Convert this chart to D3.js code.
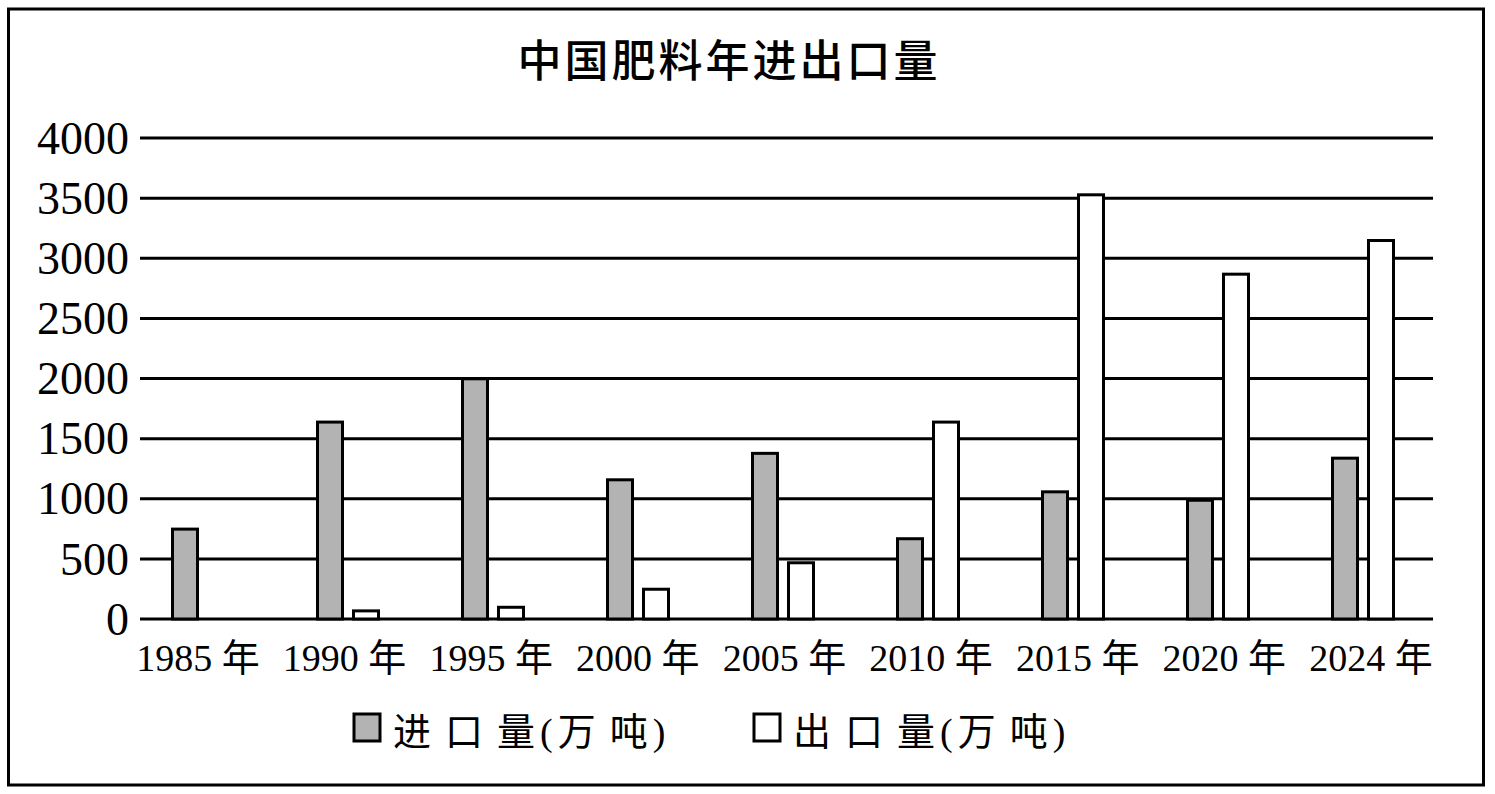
<!DOCTYPE html>
<html>
<head>
<meta charset="utf-8">
<script src="https://cdn.jsdelivr.net/npm/d3@7"></script>
<style>
  html, body { margin: 0; padding: 0; background: #fff; }
  svg { display: block; }
</style>
</head>
<body>
<svg id="chart" width="1495" height="794"></svg>
<script>
const title = "中国肥料年进出口量";
const categories = ["1985 年", "1990 年", "1995 年", "2000 年", "2005 年", "2010 年", "2015 年", "2020 年", "2024 年"];
const seriesNames = ["进口量(万吨)", "出口量(万吨)"];
const importValues = [760, 1650, 2010, 1170, 1390, 680, 1070, 1000, 1350];
const exportValues = [null, 80, 110, 260, 480, 1650, 3540, 2880, 3160];
const yTicks = [0, 500, 1000, 1500, 2000, 2500, 3000, 3500, 4000];
const seriesFills = ["#b3b3b3", "#ffffff"];

const serif = "'Liberation Serif', 'Times New Roman', 'Noto Sans CJK SC', serif";
const sansCJK = "'Noto Sans CJK SC', 'Noto Sans', sans-serif";

const svg = d3.select("#chart");

// outer frame
svg.append("rect")
  .attr("x", 8.5).attr("y", 9)
  .attr("width", 1475).attr("height", 776)
  .attr("fill", "#fff").attr("stroke", "#000").attr("stroke-width", 3);

// title
svg.append("text")
  .attr("x", 729).attr("y", 77)
  .attr("text-anchor", "middle")
  .style("font-family", sansCJK)
  .style("font-size", "44px")
  .style("font-weight", 500)
  .style("letter-spacing", "3px")
  .text(title);

const gridX0 = 140, gridX1 = 1433;
const y = d3.scaleLinear().domain([0, 4000]).range([619, 138]);
const x = d3.scaleBand().domain(categories).range([130.5, 1435.5]).padding(0);
const xSub = d3.scaleBand().domain(seriesNames).range([-32, 32]).paddingInner(0.222).paddingOuter(0);
const xLabel = d3.scalePoint().domain(categories).range([198, 1371]);

// gridlines
svg.append("g").selectAll("line")
  .data(yTicks).join("line")
  .attr("x1", gridX0).attr("x2", gridX1)
  .attr("y1", d => y(d)).attr("y2", d => y(d))
  .attr("stroke", "#000").attr("stroke-width", 3);

// y tick labels via axis
const yAxis = d3.axisLeft(y).tickValues(yTicks).tickSize(0).tickPadding(0).tickFormat(d3.format("d"));
const yg = svg.append("g").attr("transform", "translate(129,0)").call(yAxis);
yg.select(".domain").remove();
yg.selectAll("text")
  .attr("dy", "0.33em")
  .style("font-family", serif)
  .style("font-size", "46px")
  .attr("fill", "#000");

// bars
const series = [importValues, exportValues];
const barData = [];
categories.forEach((c, i) => {
  series.forEach((vals, s) => {
    if (vals[i] != null && vals[i] > 0) barData.push({ cat: c, s: s, v: vals[i] });
  });
});
const bw = xSub.bandwidth();
svg.append("g").selectAll("rect")
  .data(barData).join("rect")
  .attr("x", d => x(d.cat) + x.bandwidth() / 2 + xSub(seriesNames[d.s]) + 1.5)
  .attr("width", bw - 3)
  .attr("y", d => y(d.v) + 1.5)
  .attr("height", d => y(0) - y(d.v) - 1.5)
  .attr("fill", d => seriesFills[d.s])
  .attr("stroke", "#000").attr("stroke-width", 3);

// x labels
svg.append("g").selectAll("text")
  .data(categories).join("text")
  .attr("x", d => xLabel(d)).attr("y", 671)
  .attr("text-anchor", "middle")
  .style("font-family", serif)
  .style("font-size", "38px")
  .attr("fill", "#000")
  .text(d => d);

// legend
const legendX = [354, 754];
const lg = svg.append("g").selectAll("g")
  .data(seriesNames).join("g")
  .attr("transform", (d, i) => `translate(${legendX[i]},714)`);
lg.append("rect")
  .attr("width", 26).attr("height", 27)
  .attr("fill", (d, i) => seriesFills[i])
  .attr("stroke", "#000").attr("stroke-width", 3);
const lt = lg.append("text")
  .attr("x", 39).attr("y", 31)
  .style("font-family", serif)
  .style("font-size", "38px")
  .attr("fill", "#000");
lt.selectAll("tspan")
  .data(d => Array.from(d))
  .join("tspan")
  .attr("dx", (ch, i, arr) => {
    if (i === 0) return 0;
    const prev = arr[i - 1].__data__;
    if (ch === "(" || ch === ")" || prev === "(") return 5;
    return 14;
  })
  .text(ch => ch);
</script>
</body>
</html>
